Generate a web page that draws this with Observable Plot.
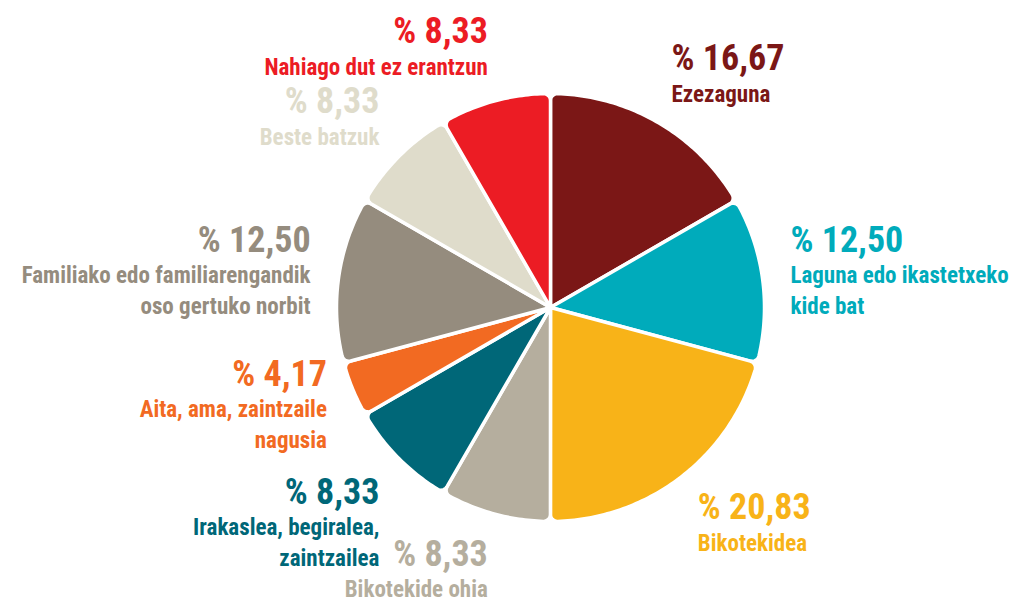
<!DOCTYPE html>
<html><head><meta charset="utf-8">
<script src="https://cdn.jsdelivr.net/npm/d3@7"></script>
<script src="https://cdn.jsdelivr.net/npm/@observablehq/plot@0.6"></script>
<style>
html,body{margin:0;padding:0;background:#fff;}
svg text{font-stretch:condensed;}
</style>
</head><body><div id="chart"></div>
<script>
const categories = [
  "Ezezaguna",
  "Laguna edo ikastetxeko\nkide bat",
  "Bikotekidea",
  "Bikotekide ohia",
  "Irakaslea, begiralea,\nzaintzailea",
  "Aita, ama, zaintzaile\nnagusia",
  "Familiako edo familiarengandik\noso gertuko norbit",
  "Beste batzuk",
  "Nahiago dut ez erantzun"
];
const values = [16.67, 12.50, 20.83, 8.33, 8.33, 4.17, 12.50, 8.33, 8.33];
const valueLabels = ["% 16,67", "% 12,50", "% 20,83", "% 8,33", "% 8,33", "% 4,17", "% 12,50", "% 8,33", "% 8,33"];
const colors = ["#7b1716", "#00abbb", "#f8b318", "#b5ae9e", "#006778", "#f26a22", "#958c7e", "#dfdccb", "#ec1c24"];

const W = 1013, H = 604;
const Rpx = 214, cx = 550, cy = 307;
const font = "'Liberation Sans Narrow', 'Arial Narrow', 'Roboto Condensed', 'DejaVu Sans Condensed', 'DejaVu Sans', sans-serif";

const arcs = d3.pie().sort(null).value(d => d)(values);

// slice outlines (unit radius) with rounded outer corners
const c = 7 / Rpx;
const slicePts = [];
arcs.forEach((p, i) => {
  const a0 = p.startAngle, a1 = p.endAngle;
  const d = Math.asin(c / (1 - c));
  const push = (x, y) => slicePts.push({i, x, y, color: colors[i]});
  push(0, 0);
  const f0 = a0 + d;
  const f0x = (1 - c) * Math.sin(f0), f0y = (1 - c) * Math.cos(f0);
  for (let k = 0; k <= 10; k++) {
    const phi = (a0 - Math.PI / 2) + (Math.PI / 2 + d) * k / 10;
    push(f0x + c * Math.sin(phi), f0y + c * Math.cos(phi));
  }
  const nArc = Math.max(4, Math.ceil((a1 - a0) * 60));
  for (let k = 1; k < nArc; k++) {
    const a = (a0 + d) + (a1 - a0 - 2 * d) * k / nArc;
    push(Math.sin(a), Math.cos(a));
  }
  const f1 = a1 - d;
  const f1x = (1 - c) * Math.sin(f1), f1y = (1 - c) * Math.cos(f1);
  for (let k = 0; k <= 10; k++) {
    const phi = f1 + (Math.PI / 2 + d) * k / 10;
    push(f1x + c * Math.sin(phi), f1y + c * Math.cos(phi));
  }
});

// labels anchored on each slice's middle angle; the text block hangs
// below the anchor at the bottom, above it at the top, centred at the sides
const L = 242 / Rpx;
const blocks = arcs.map((p, i) => {
  const mid = (p.startAngle + p.endAngle) / 2;
  const n = categories[i].split("\n").length;
  const px = cx + L * Rpx * Math.sin(mid), py = cy - L * Rpx * Math.cos(mid);
  const h = 57 + 31 * (n - 1);
  const t = (1 + Math.cos(mid)) / 2;
  return {i, n, h, px, top: py - t * h, sin: Math.sin(mid)};
});
// simple collision pass among side labels (pixels)
const gap = 30;
for (const side of [1, -1]) {
  const group = blocks.filter(b => Math.sign(b.sin) === side && Math.abs(b.sin) > 0.6).sort((a, b) => a.top - b.top);
  for (let iter = 0; iter < 20; iter++) {
    for (let k = 1; k < group.length; k++) {
      const a = group[k - 1], b = group[k];
      const over = a.top + a.h + gap - b.top;
      if (over > 0) { a.top -= over / 2; b.top += over / 2; }
    }
  }
}
const labels = blocks.map(b => ({
  lx: (b.px - cx) / Rpx,
  vy: (cy - (b.top + 14)) / Rpx,
  ny: (cy - (b.top + 47 + 15.5 * (b.n - 1))) / Rpx,
  anchor: b.sin > 0 ? "start" : "end",
  value: valueLabels[b.i],
  name: categories[b.i],
  color: colors[b.i]
}));

const textMarks = [];
for (const anchor of ["start", "end"]) {
  textMarks.push(Plot.text(labels, {filter: d => d.anchor === anchor, x: "lx", y: "vy", text: "value", fill: "color",
    textAnchor: anchor, lineAnchor: "middle", fontSize: 36, fontFamily: font, fontWeight: "bold"}));
  textMarks.push(Plot.text(labels, {filter: d => d.anchor === anchor, x: "lx", y: "ny", text: "name", fill: "color",
    textAnchor: anchor, lineAnchor: "middle", lineHeight: 31 / 23, fontSize: 23, fontFamily: font, fontWeight: "bold"}));
}

const chart = Plot.plot({
  width: W, height: H,
  marginLeft: 0, marginRight: 0, marginTop: 0, marginBottom: 0,
  x: {domain: [-cx / Rpx, (W - cx) / Rpx], axis: null},
  y: {domain: [-(H - cy) / Rpx, cy / Rpx], axis: null},
  color: {type: "identity"},
  style: {background: "#fff"},
  marks: [
    Plot.line(slicePts, {x: "x", y: "y", z: "i", fill: "color", stroke: "white", strokeWidth: 3.5, curve: "linear-closed"}),
    ...textMarks
  ]
});
document.getElementById("chart").appendChild(chart);
</script>
</body></html>
